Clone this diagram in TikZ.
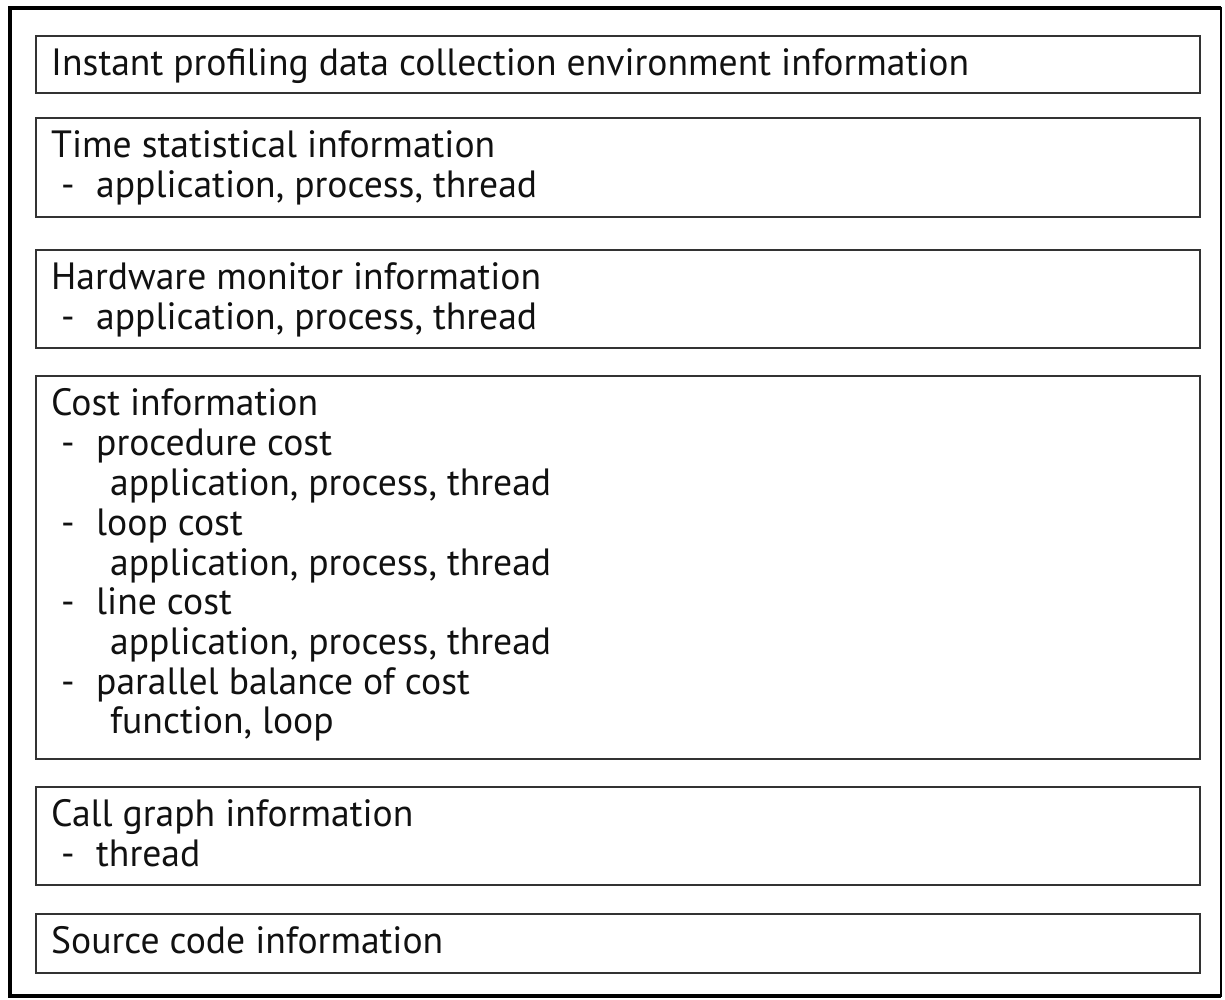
\documentclass[tikz,border=0pt]{standalone}
\usepackage{fontspec}
\setmainfont{PT Sans}[FakeStretch=0.99]
\definecolor{boxgray}{HTML}{333333}
\definecolor{inkblack}{HTML}{111111}
\tikzset{
  infobox/.style={draw=boxgray, line width=1.8pt, minimum width=1164pt,
    anchor=north west, inner sep=0pt, outer sep=0pt},
  txt/.style={anchor=base west, inner sep=0pt, text=inkblack,
    font=\fontsize{38}{40}\selectfont},
}
% heading line, bullet line and continuation line inside a box
\newcommand{\headline}[3]{\node[txt] (#1) at ([shift={(15,39)}]#2.north west) {#3};}
\newcommand{\dashline}[4]{\node[txt] (#1) at ([shift={(25,#3)}]#2.north west) {\makebox[35pt][l]{-}#4};}
\newcommand{\subline}[4]{\node[txt] (#1) at ([shift={(74,#3)}]#2.north west) {#4};}
\begin{document}
\begin{tikzpicture}[x=1pt, y=-1pt]
  \useasboundingbox (0,0) rectangle (1225,999);
  \fill[white] (0,0) rectangle (1225,999);
  % outer frame: heavy on left, top and bottom, light on right
  \draw[black, line width=2pt] (10,8) rectangle (1220.5,996);
  \draw[black, line width=4.5pt] (1220.5,8) -- (10,8) -- (10,996) -- (1220.5,996);

  \node[infobox, minimum height=57pt] (b1) at (36,36) {};
  \node[infobox, minimum height=99pt] (b2) at (36,118) {};
  \node[infobox, minimum height=98pt] (b3) at (36,250) {};
  \node[infobox, minimum height=383pt] (b4) at (36,376) {};
  \node[infobox, minimum height=98pt] (b5) at (36,787) {};
  \node[infobox, minimum height=59pt] (b6) at (36,914) {};

  \headline{t1}{b1}{Instant profiling data collection environment information}

  \headline{t2}{b2}{Time statistical information}
  \dashline{t2a}{b2}{79}{application, process, thread}

  \headline{t3}{b3}{Hardware monitor information}
  \dashline{t3a}{b3}{79}{application, process, thread}

  \headline{t4}{b4}{Cost information}
  \dashline{t4a}{b4}{79}{procedure cost}
  \subline{t4b}{b4}{119}{application, process, thread}
  \dashline{t4c}{b4}{159}{loop cost}
  \subline{t4d}{b4}{199}{application, process, thread}
  \dashline{t4e}{b4}{238}{line cost}
  \subline{t4f}{b4}{278}{application, process, thread}
  \dashline{t4g}{b4}{318}{parallel balance of cost}
  \subline{t4h}{b4}{357}{function, loop}

  \headline{t5}{b5}{Call graph information}
  \dashline{t5a}{b5}{79}{thread}

  \headline{t6}{b6}{Source code information}
\end{tikzpicture}
\end{document}
